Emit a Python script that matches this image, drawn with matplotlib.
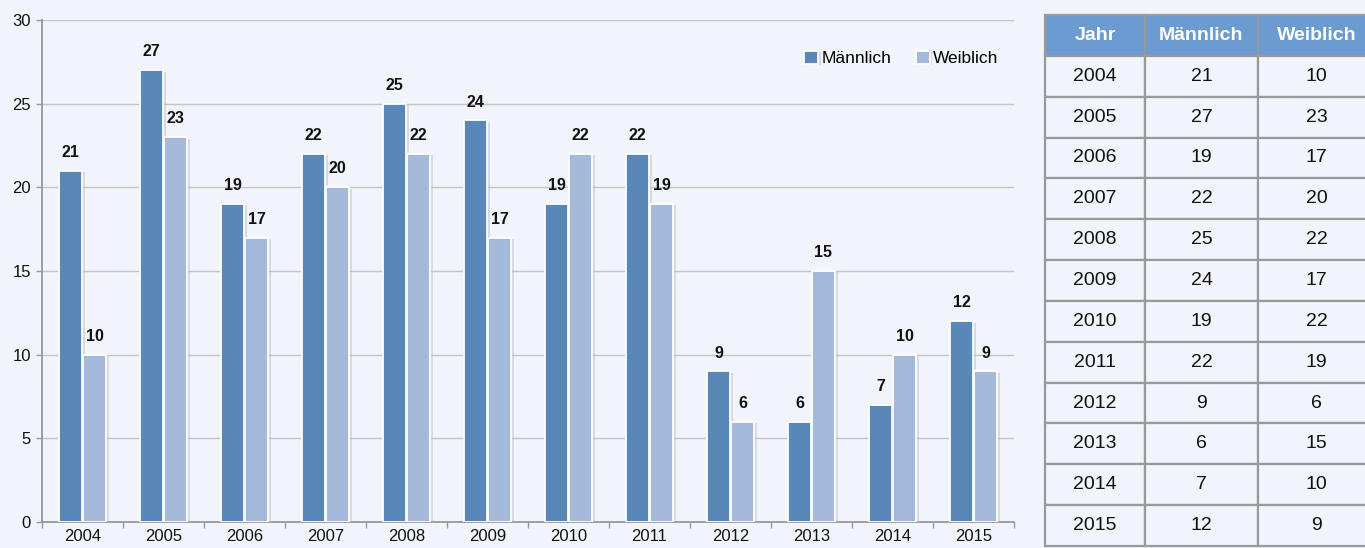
import matplotlib
matplotlib.use("Agg")
import matplotlib.pyplot as plt
import matplotlib.patheffects as pe
import numpy as np

years = ["2004", "2005", "2006", "2007", "2008", "2009", "2010", "2011", "2012", "2013", "2014", "2015"]
maennlich = [21, 27, 19, 22, 25, 24, 19, 22, 9, 6, 7, 12]
weiblich = [10, 23, 17, 20, 22, 17, 22, 19, 6, 15, 10, 9]
series_names = ["Männlich", "Weiblich"]
table_header = ["Jahr", "Männlich", "Weiblich"]
yticks = [0, 5, 10, 15, 20, 25, 30]

plt.rcParams['font.family'] = ['Liberation Sans', 'DejaVu Sans']

BG = "#f1f4fb"
C_M = "#5887b8"
C_W = "#a5b9db"
HEAD = "#6c9bd2"

W, H = 1365, 548
fig = plt.figure(figsize=(W / 100, H / 100), dpi=100, facecolor=BG)

# chart axes (pixel placement)
x0, x1 = 42, 1014
y_top, y_bot = 20, 522
ax = fig.add_axes([x0 / W, 1 - y_bot / H, (x1 - x0) / W, (y_bot - y_top) / H])
ax.set_facecolor(BG)

x = np.arange(len(years))
bw = 0.285
off = 0.148
shadow = [pe.SimplePatchShadow(offset=(2, -1), shadow_rgbFace="#b8bcc4", alpha=0.45), pe.Normal()]
b1 = ax.bar(x - off, maennlich, bw, color=C_M, edgecolor="white", linewidth=1.3,
            label=series_names[0], zorder=3, path_effects=shadow)
b2 = ax.bar(x + off, weiblich, bw, color=C_W, edgecolor="white", linewidth=1.3,
            label=series_names[1], zorder=3, path_effects=shadow)

for bars, vals in ((b1, maennlich), (b2, weiblich)):
    for r, v in zip(bars, vals):
        ax.text(r.get_x() + r.get_width() / 2, v + 0.65, str(v), ha="center", va="bottom",
                fontsize=11.5, fontweight="bold", color="#111111", zorder=4)

ax.set_xlim(-0.5, len(years) - 0.5)
ax.set_ylim(0, 30)
ax.set_yticks(yticks)
ax.set_yticklabels([str(t) for t in yticks], fontsize=12, color="#111111")
ax.set_xticks(x)
ax.set_xticklabels(years, fontsize=12, color="#111111")
ax.set_xticks(np.arange(-0.5, len(years), 1), minor=True)
ax.tick_params(axis="x", which="major", length=0, pad=5)
ax.tick_params(axis="x", which="minor", length=4, color="#999999", width=1)
ax.tick_params(axis="y", length=4, color="#999999", width=1, pad=4)
ax.grid(axis="y", color="#c4c4c4", linewidth=1, zorder=0)
for s in ("top", "right"):
    ax.spines[s].set_visible(False)
for s in ("left", "bottom"):
    ax.spines[s].set_color("#999999")
    ax.spines[s].set_linewidth(1.3)

leg = ax.legend(loc="upper right", bbox_to_anchor=(1.0, 0.97), ncol=2, frameon=False,
                fontsize=12.5, handlelength=0.8, handleheight=0.8, handletextpad=0.2,
                columnspacing=1.4)

# table
tx0, tx1 = 1045, 1375
ty0, ty1 = 15, 546
tax = fig.add_axes([tx0 / W, 1 - ty1 / H, (tx1 - tx0) / W, (ty1 - ty0) / H])
tax.axis("off")
cells = [[y, str(m), str(w)] for y, m, w in zip(years, maennlich, weiblich)]
tbl = tax.table(cellText=cells, colLabels=table_header, loc="upper left",
                bbox=[0, 0, 1, 1], cellLoc="center",
                colWidths=[100, 113, 117])
tbl.auto_set_font_size(False)
for (r, c), cell in tbl.get_celld().items():
    cell.set_edgecolor("#999999")
    cell.set_linewidth(1.6)
    if r == 0:
        cell.set_facecolor(HEAD)
        cell.get_text().set_color("white")
        cell.get_text().set_fontweight("bold")
        cell.get_text().set_fontsize(14)
    else:
        cell.set_facecolor(BG)
        cell.get_text().set_color("#111111")
        cell.get_text().set_fontsize(14)

fig.savefig("out.png", dpi=100, facecolor=BG)
